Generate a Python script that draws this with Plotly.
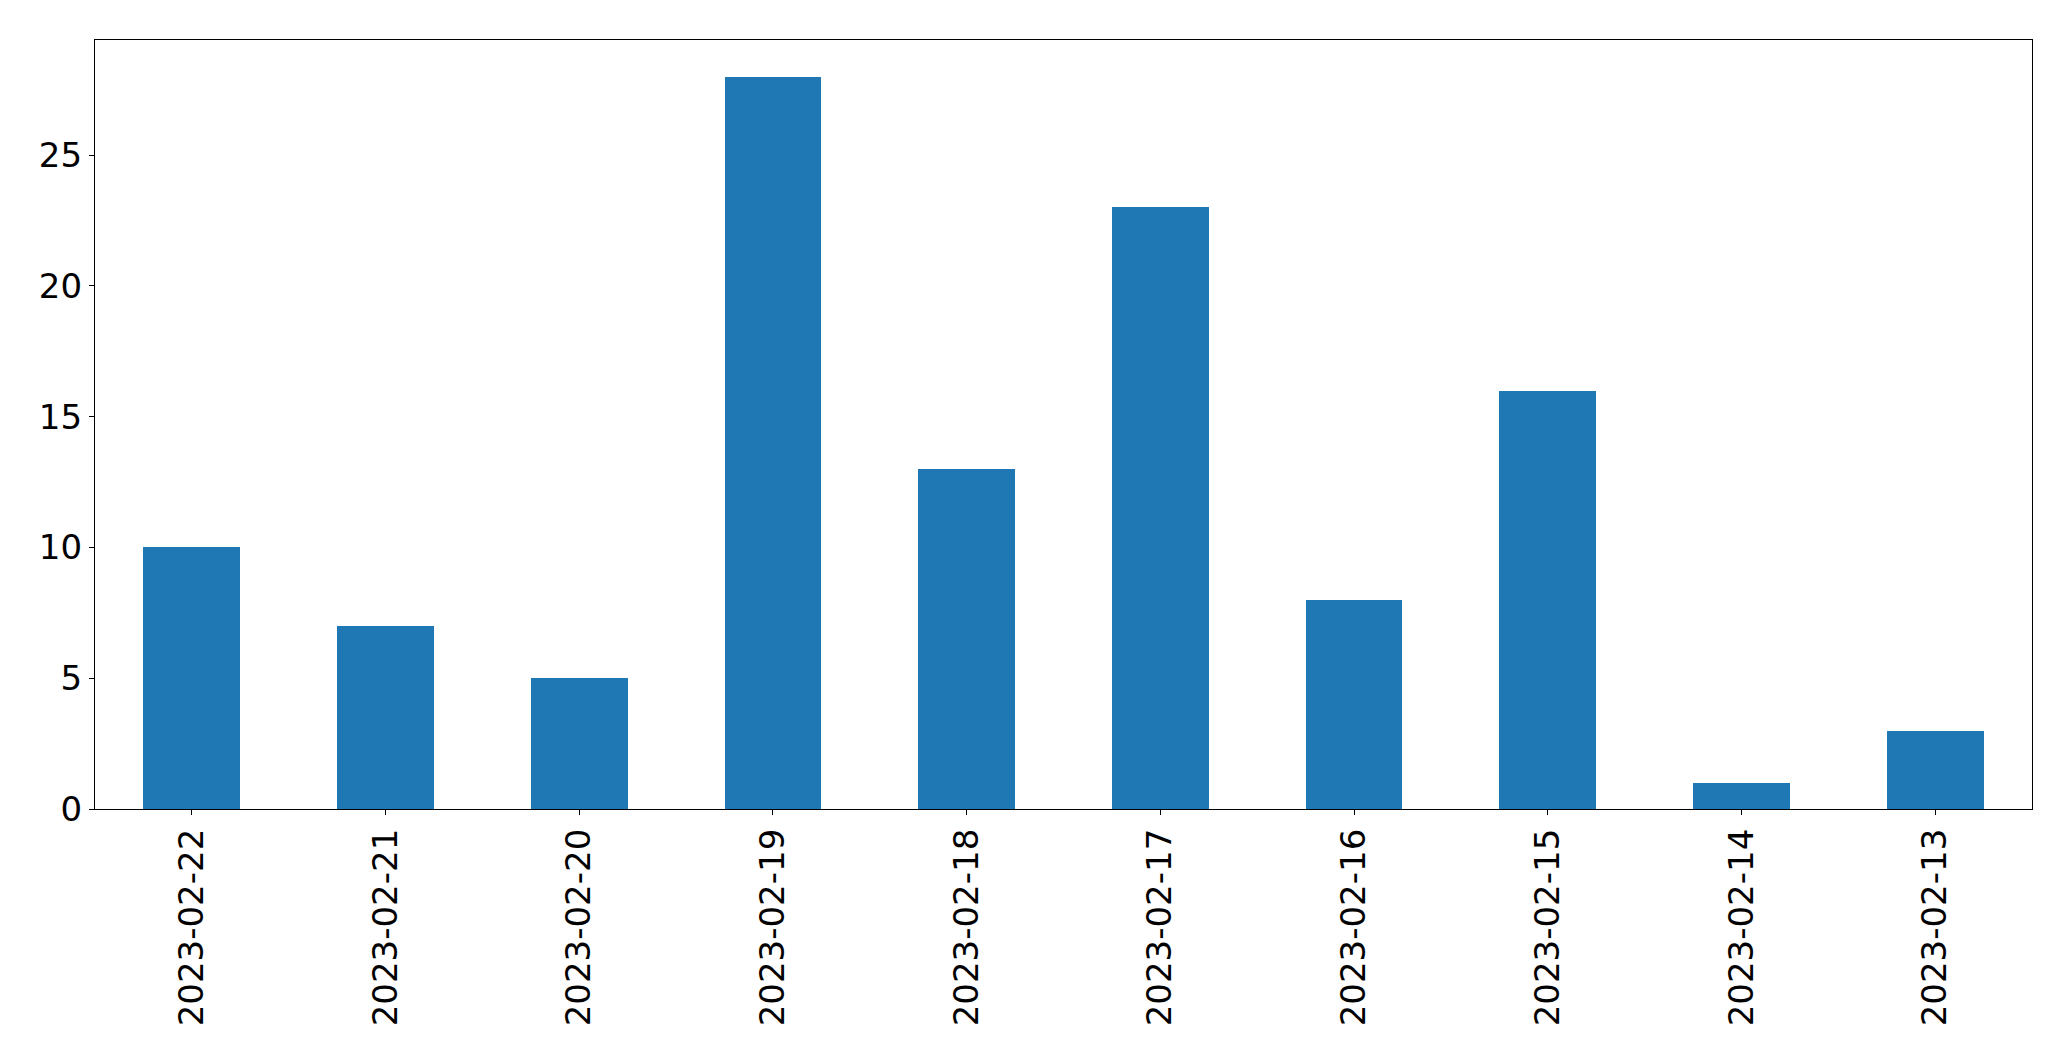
import plotly.graph_objects as go

dates = ["2023-02-22", "2023-02-21", "2023-02-20", "2023-02-19", "2023-02-18",
         "2023-02-17", "2023-02-16", "2023-02-15", "2023-02-14", "2023-02-13"]
counts = [10, 7, 5, 28, 13, 23, 8, 16, 1, 3]
y_ticks = [0, 5, 10, 15, 20, 25]

fig = go.Figure(go.Bar(x=dates, y=counts, width=0.5, marker=dict(color="#1f77b4", line=dict(width=0))))

font = dict(family="DejaVu Sans", size=34, color="black")
fig.update_layout(
    width=2071, height=1061,
    margin=dict(l=94.5, r=39.3, t=39.5, b=252, pad=0),
    plot_bgcolor="white", paper_bgcolor="white",
    showlegend=False, bargap=0,
)
fig.update_xaxes(
    type="category", range=[-0.5, 9.5], tickangle=-90,
    showline=True, linecolor="black", linewidth=1.3, mirror=True,
    ticks="outside", ticklen=5, tickwidth=1.3, tickcolor="black",
    showgrid=False, zeroline=False, tickfont=font,
)
fig.update_yaxes(
    range=[0, 29.4], tickvals=y_ticks,
    showline=True, linecolor="black", linewidth=1.3, mirror=True,
    ticks="outside", ticklen=5, tickwidth=1.3, tickcolor="black",
    showgrid=False, zeroline=False, tickfont=font,
)
fig.write_html("out.html")
